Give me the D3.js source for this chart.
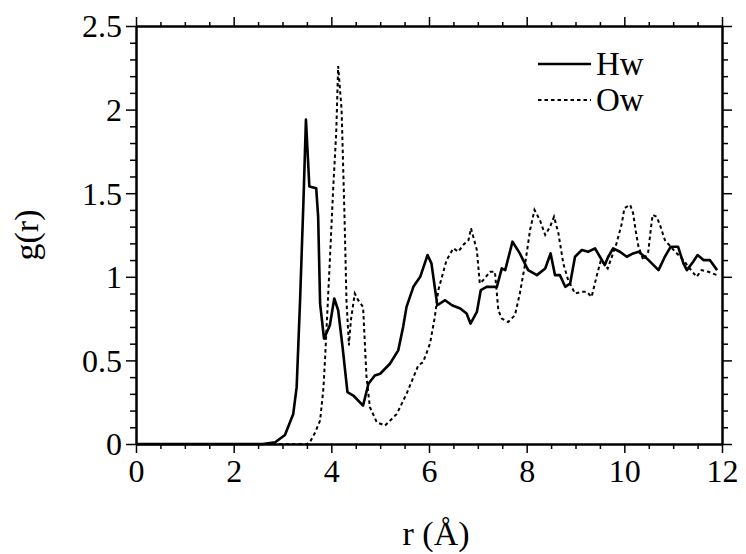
<!DOCTYPE html>
<html>
<head>
<meta charset="utf-8">
<script src="https://cdn.jsdelivr.net/npm/d3@7"></script>
<style>
  body { margin: 0; background: #fff; }
  svg { display: block; }
  text { font-family: "Liberation Serif", "DejaVu Serif", serif; fill: #000; }
</style>
</head>
<body>
<svg id="chart" width="746" height="554"></svg>
<script>
// ---- data ----
const hwR = [0, 1, 2, 2.6, 2.85, 3.05, 3.22, 3.29, 3.36, 3.43, 3.48, 3.55, 3.69, 3.73, 3.77, 3.85, 3.97, 4.06, 4.14, 4.23, 4.33, 4.45, 4.65, 4.76, 4.89, 5.0, 5.2, 5.37, 5.47, 5.54, 5.68, 5.82, 5.97, 6.05, 6.17, 6.33, 6.47, 6.64, 6.77, 6.85, 6.98, 7.06, 7.18, 7.39, 7.49, 7.56, 7.71, 7.86, 8.03, 8.21, 8.38, 8.49, 8.58, 8.68, 8.79, 8.89, 8.99, 9.13, 9.26, 9.40, 9.50, 9.60, 9.67, 9.77, 9.91, 10.05, 10.18, 10.29, 10.46, 10.70, 10.83, 10.95, 11.10, 11.21, 11.28, 11.41, 11.50, 11.62, 11.75, 11.90];
const hwG = [0, 0, 0, 0, 0.01, 0.054, 0.18, 0.34, 0.86, 1.46, 1.94, 1.54, 1.53, 1.36, 0.84, 0.63, 0.71, 0.87, 0.80, 0.58, 0.31, 0.29, 0.23, 0.36, 0.41, 0.42, 0.48, 0.56, 0.70, 0.82, 0.94, 1.00, 1.13, 1.08, 0.83, 0.86, 0.83, 0.81, 0.78, 0.72, 0.79, 0.92, 0.94, 0.94, 1.05, 1.04, 1.21, 1.14, 1.04, 1.01, 1.05, 1.14, 1.01, 1.01, 0.94, 0.96, 1.12, 1.16, 1.15, 1.17, 1.12, 1.07, 1.12, 1.17, 1.15, 1.12, 1.14, 1.15, 1.11, 1.04, 1.12, 1.18, 1.18, 1.08, 1.04, 1.09, 1.13, 1.10, 1.10, 1.04];

const owR = [0, 1, 2, 3, 3.5, 3.56, 3.67, 3.77, 3.84, 3.87, 3.92, 3.97, 4.04, 4.10, 4.14, 4.21, 4.27, 4.31, 4.36, 4.40, 4.48, 4.55, 4.65, 4.72, 4.79, 4.93, 5.10, 5.34, 5.54, 5.78, 5.88, 6.02, 6.12, 6.19, 6.36, 6.50, 6.60, 6.70, 6.81, 6.86, 6.98, 7.04, 7.11, 7.25, 7.35, 7.42, 7.49, 7.62, 7.76, 7.86, 7.97, 8.07, 8.16, 8.27, 8.38, 8.48, 8.56, 8.65, 8.75, 8.85, 8.99, 9.13, 9.23, 9.33, 9.43, 9.52, 9.66, 9.84, 9.95, 10.0, 10.12, 10.18, 10.23, 10.29, 10.39, 10.49, 10.54, 10.58, 10.66, 10.73, 10.83, 11.04, 11.21, 11.31, 11.48, 11.58, 11.72, 11.90];
const owG = [0, 0, 0, 0, 0, 0.01, 0.07, 0.14, 0.34, 0.50, 0.80, 1.10, 1.54, 1.86, 2.26, 2.00, 1.36, 0.86, 0.59, 0.74, 0.90, 0.86, 0.82, 0.40, 0.22, 0.13, 0.11, 0.18, 0.30, 0.47, 0.49, 0.60, 0.76, 0.92, 1.10, 1.17, 1.15, 1.19, 1.22, 1.29, 1.16, 0.96, 0.98, 1.03, 1.03, 0.80, 0.75, 0.73, 0.77, 0.90, 1.08, 1.28, 1.40, 1.34, 1.25, 1.30, 1.36, 1.26, 1.08, 0.98, 0.90, 0.91, 0.91, 0.88, 1.00, 1.10, 1.05, 1.20, 1.32, 1.41, 1.43, 1.38, 1.28, 1.18, 1.10, 1.15, 1.28, 1.37, 1.36, 1.31, 1.22, 1.15, 1.10, 1.06, 1.00, 1.04, 1.03, 1.01];

const xTicks = [0, 2, 4, 6, 8, 10, 12];
const yTicks = [0, 0.5, 1, 1.5, 2, 2.5];
const seriesNames = ["Hw", "Ow"];

// ---- layout ----
const svg = d3.select("#chart");
const x = d3.scaleLinear().domain([0, 12]).range([136, 722]);
const y = d3.scaleLinear().domain([0, 2.5]).range([444, 26]);

const xMinor = d3.range(0, 12.01, 0.5).filter(v => !xTicks.includes(v));
const yMinor = d3.range(0, 2.501, 0.1).map(v => +v.toFixed(2)).filter(v => !yTicks.includes(v));

function axisGroup(axis, transform) {
  const g = svg.append("g").attr("transform", transform).call(axis);
  g.selectAll("path").attr("stroke", "#000").attr("stroke-width", 2);
  g.selectAll("line").attr("stroke", "#000").attr("stroke-width", 1.5);
  g.selectAll("text").style("font-size", "32px").style("font-family", "Liberation Serif, serif");
  return g;
}

// minor ticks
axisGroup(d3.axisBottom(x).tickValues(xMinor).tickSize(5).tickFormat("").tickSizeOuter(0), `translate(0,${y(0)})`);
axisGroup(d3.axisTop(x).tickValues(xMinor).tickSize(4).tickFormat("").tickSizeOuter(0), `translate(0,${y(2.5)})`);
axisGroup(d3.axisLeft(y).tickValues(yMinor).tickSize(6).tickFormat("").tickSizeOuter(0), `translate(${x(0)},0)`);
axisGroup(d3.axisRight(y).tickValues(yMinor).tickSize(6).tickFormat("").tickSizeOuter(0), `translate(${x(12)},0)`);

// major ticks
const bx = axisGroup(d3.axisBottom(x).tickValues(xTicks).tickSize(9).tickPadding(6).tickFormat(d3.format("d")).tickSizeOuter(0), `translate(0,${y(0)})`);
axisGroup(d3.axisTop(x).tickValues(xTicks).tickSize(9).tickFormat("").tickSizeOuter(0), `translate(0,${y(2.5)})`);
const ly = axisGroup(d3.axisLeft(y).tickValues(yTicks).tickSize(10).tickPadding(4).tickFormat(d => d3.format("")(d)).tickSizeOuter(0), `translate(${x(0)},0)`);
axisGroup(d3.axisRight(y).tickValues(yTicks).tickSize(10).tickFormat("").tickSizeOuter(0), `translate(${x(12)},0)`);
ly.selectAll("text").attr("dy", "0.34em");

// curves
const line = d3.line().x(d => x(d[0])).y(d => y(d[1]));
const hwData = hwR.map((r, i) => [r, hwG[i]]);
const owData = owR.map((r, i) => [r, owG[i]]);

svg.append("path").datum(owData).attr("d", line)
  .attr("fill", "none").attr("stroke", "#000").attr("stroke-width", 2)
  .attr("stroke-dasharray", "3.5,3");
svg.append("path").datum(hwData).attr("d", line)
  .attr("fill", "none").attr("stroke", "#000").attr("stroke-width", 2.6)
  .attr("stroke-linejoin", "round");

// legend
const legend = svg.append("g");
const legY = [64, 100];
seriesNames.forEach((name, i) => {
  legend.append("line")
    .attr("x1", 538).attr("x2", 591).attr("y1", legY[i]).attr("y2", legY[i])
    .attr("stroke", "#000").attr("stroke-width", i === 0 ? 2.4 : 2)
    .attr("stroke-dasharray", i === 0 ? null : "3.5,3");
  legend.append("text")
    .attr("x", 596).attr("y", legY[i] + 11)
    .style("font-size", "33px")
    .text(name);
});

// axis titles
svg.append("text")
  .attr("x", 436).attr("y", 545)
  .attr("text-anchor", "middle")
  .style("font-size", "34px")
  .text("r (Å)");
svg.append("text")
  .attr("transform", "translate(38,235) rotate(-90)")
  .attr("text-anchor", "middle")
  .style("font-size", "34px")
  .text("g(r)");
</script>
</body>
</html>
